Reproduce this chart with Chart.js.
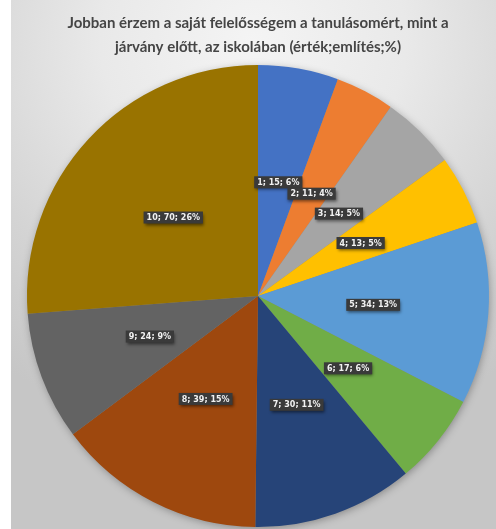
<!DOCTYPE html>
<html>
<head>
<meta charset="utf-8">
<script src="https://cdn.jsdelivr.net/npm/chart.js@4/dist/chart.umd.min.js"></script>
<style>
    html, body { margin: 0; padding: 0; background: #fff; }
    #wrap { position: relative; width: 496px; height: 529px; }
    #bg {
        position: absolute; left: 11px; top: 0; width: 485px; height: 529px;
        background: radial-gradient(ellipse 90% 75% at 50% 8%, #f4f4f4 0%, #e9e9e9 35%, #d4d4d4 70%, #c6c6c6 100%);
    }
    canvas { position: absolute; left: 0; top: 0; }
</style>
</head>
<body>
<div id="wrap">
    <div id="bg"></div>
    <canvas id="chart" width="496" height="529"></canvas>
</div>
<script>
    // values
    const categories = ['1', '2', '3', '4', '5', '6', '7', '8', '9', '10'];
    const counts = [15, 11, 14, 13, 34, 17, 30, 39, 24, 70];
    const percents = [6, 4, 5, 5, 13, 6, 11, 15, 9, 26];
    const colors = ['#4472C4', '#ED7D31', '#A5A5A5', '#FFC000', '#5B9BD5',
                    '#70AD47', '#264478', '#9E480E', '#636363', '#997300'];
    const titleLines = [
        'Jobban érzem a saját felelősségem a tanulásomért, mint a',
        'járvány előtt, az iskolában (érték;említés;%)'
    ];

    // soft shadow under the whole pie
    const pieShadow = {
        id: 'pieShadow',
        beforeDatasetsDraw(chart) {
            const arc = chart.getDatasetMeta(0).data[0];
            if (!arc) return;
            const { x, y, outerRadius } = arc.getProps(['x', 'y', 'outerRadius'], true);
            const ctx = chart.ctx;
            ctx.save();
            ctx.shadowColor = 'rgba(0,0,0,0.35)';
            ctx.shadowBlur = 8;
            ctx.shadowOffsetX = 1;
            ctx.shadowOffsetY = 2;
            ctx.fillStyle = '#888';
            ctx.beginPath();
            ctx.arc(x, y, outerRadius - 1, 0, Math.PI * 2);
            ctx.fill();
            ctx.restore();
        }
    };

    // dark label boxes: "value; count; %"
    const sliceLabels = {
        id: 'sliceLabels',
        afterDatasetsDraw(chart) {
            const ctx = chart.ctx;
            const meta = chart.getDatasetMeta(0);
            ctx.save();
            ctx.font = 'bold 8px "DejaVu Sans"';
            ctx.textAlign = 'center';
            ctx.textBaseline = 'middle';
            meta.data.forEach((arc, i) => {
                const pos = arc.tooltipPosition(true);
                const text = categories[i] + '; ' + counts[i] + '; ' + percents[i] + '%';
                const w = ctx.measureText(text).width + 6;
                const h = 12;
                ctx.shadowColor = 'rgba(0,0,0,0.5)';
                ctx.shadowBlur = 3;
                ctx.shadowOffsetX = 1;
                ctx.shadowOffsetY = 2;
                ctx.fillStyle = '#3a3a3a';
                ctx.fillRect(pos.x - w / 2, pos.y - h / 2, w, h);
                ctx.shadowColor = 'transparent';
                ctx.fillStyle = '#f2f2f2';
                ctx.fillText(text, pos.x, pos.y + 0.5);
            });
            ctx.restore();
        }
    };

    new Chart(document.getElementById('chart'), {
        type: 'pie',
        data: {
            labels: categories,
            datasets: [{
                data: counts,
                backgroundColor: colors,
                borderWidth: 0
            }]
        },
        options: {
            responsive: false,
            animation: false,
            layout: { padding: { left: 27, right: 7, top: 0, bottom: 2 } },
            plugins: {
                legend: { display: false },
                tooltip: { enabled: false },
                title: {
                    display: true,
                    text: titleLines,
                    color: '#454545',
                    font: { family: 'Lato', size: 15, weight: 'bold', lineHeight: 1.6 },
                    padding: { top: 11, bottom: 6 }
                }
            }
        },
        plugins: [pieShadow, sliceLabels]
    });
</script>
</body>
</html>
